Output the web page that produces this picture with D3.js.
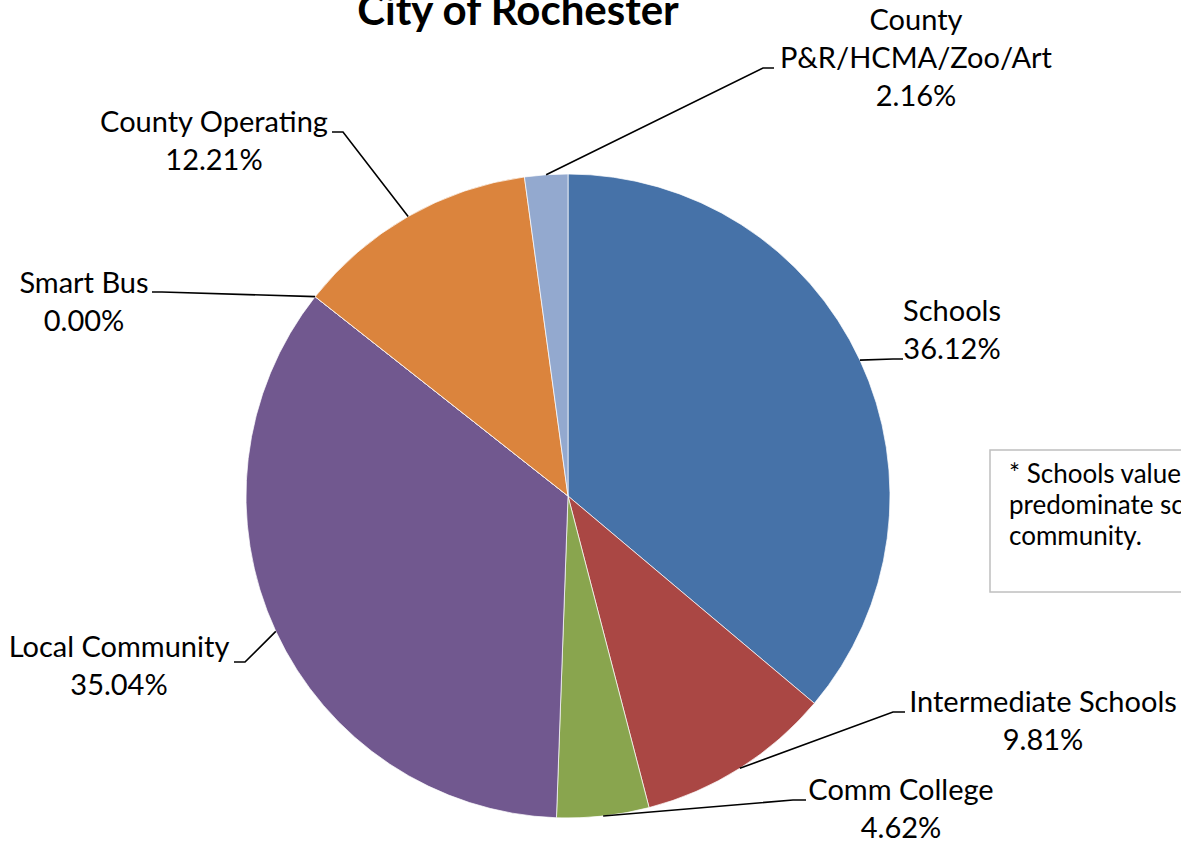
<!DOCTYPE html>
<html>
<head>
<meta charset="utf-8">
<script src="https://cdn.jsdelivr.net/npm/d3@7"></script>
<style>
  html, body { margin: 0; padding: 0; background: #ffffff; }
  svg { display: block; }
  text { font-family: Lato, "Open Sans", sans-serif; fill: #000; }
</style>
</head>
<body>
<svg id="chart" width="1181" height="845"></svg>
<script>
// ---- data ----
const categories = ["Schools", "Intermediate Schools", "Comm College", "Local Community", "Smart Bus", "County Operating", "County P&R/HCMA/Zoo/Art"];
const values = [36.12, 9.81, 4.62, 35.04, 0.00, 12.21, 2.16];
const valueLabels = ["36.12%", "9.81%", "4.62%", "35.04%", "0.00%", "12.21%", "2.16%"];
const labelLines = [["Schools"], ["Intermediate Schools"], ["Comm College"], ["Local Community"], ["Smart Bus"], ["County Operating"], ["County", "P&R/HCMA/Zoo/Art"]];
const colors = ["#4672A8", "#AA4744", "#89A54E", "#71588F", "#4198AF", "#DB843D", "#93A9CF"];
const title = "City of Rochester";
const noteLines = ["* Schools values reflect the", "predominate school district in the", "community."];

// ---- layout (positions only) ----
const cx = 568, cy = 496, radius = 322;
// text center x, first baseline y, leader end (ex,ey), elbow (bx,by)
const labelLayout = [
  {x: 952,  y: 321, ex: 903, ey: 359, bx: 893, by: 359},
  {x: 1043, y: 712, ex: 905, ey: 712, bx: 893, by: 712},
  {x: 901,  y: 800, ex: 806, ey: 800, bx: 793, by: 800},
  {x: 119,  y: 657, ex: 234, ey: 662, bx: 245, by: 662},
  {x: 84,   y: 293, ex: 152, ey: 292, bx: 162, by: 292},
  {x: 214,  y: 132, ex: 332, ey: 132, bx: 343, by: 132},
  {x: 916,  y: 30,  ex: 774, ey: 68,  bx: 763, by: 68}
];
const lineH = 38;

const svg = d3.select("#chart");

// title
svg.append("text")
  .attr("x", 518).attr("y", 25)
  .attr("text-anchor", "middle")
  .style("font-weight", "bold")
  .style("font-size", "42px")
  .text(title);

const pie = d3.pie().sort(null).value(d => d)
  .startAngle(0).endAngle(2 * Math.PI);
const arcs = pie(values);
const arc = d3.arc().innerRadius(0).outerRadius(radius);
const g = svg.append("g").attr("transform", `translate(${cx},${cy})`);

g.selectAll("path.slice").data(arcs).enter().append("path")
  .attr("class", "slice")
  .attr("d", arc)
  .attr("fill", (d, i) => colors[i])
  .attr("stroke", "#ffffff")
  .attr("stroke-width", 1)
  .attr("stroke-opacity", 0.7);

// leader lines and labels
arcs.forEach((d, i) => {
  const L = labelLayout[i];
  const mid = (d.startAngle + d.endAngle) / 2;
  const px = cx + radius * Math.sin(mid);
  const py = cy - radius * Math.cos(mid);
  svg.append("polyline")
    .attr("points", `${px},${py} ${L.bx},${L.by} ${L.ex},${L.ey}`)
    .attr("fill", "none")
    .attr("stroke", "#000")
    .attr("stroke-width", 1.6);
  const lines = labelLines[i].concat([valueLabels[i]]);
  const t = svg.append("text")
    .attr("text-anchor", "middle")
    .style("font-size", "29px");
  lines.forEach((s, k) => {
    t.append("tspan").attr("x", L.x).attr("y", L.y + k * lineH).text(s);
  });
});

// note box
svg.append("rect")
  .attr("x", 990).attr("y", 450)
  .attr("width", 240).attr("height", 142)
  .attr("fill", "#fff")
  .attr("stroke", "#BFBFBF")
  .attr("stroke-width", 1.5);
const nt = svg.append("text").style("font-size", "26px");
noteLines.forEach((s, k) => {
  nt.append("tspan").attr("x", 1009).attr("y", 483 + k * 31).text(s);
});
</script>
</body>
</html>
